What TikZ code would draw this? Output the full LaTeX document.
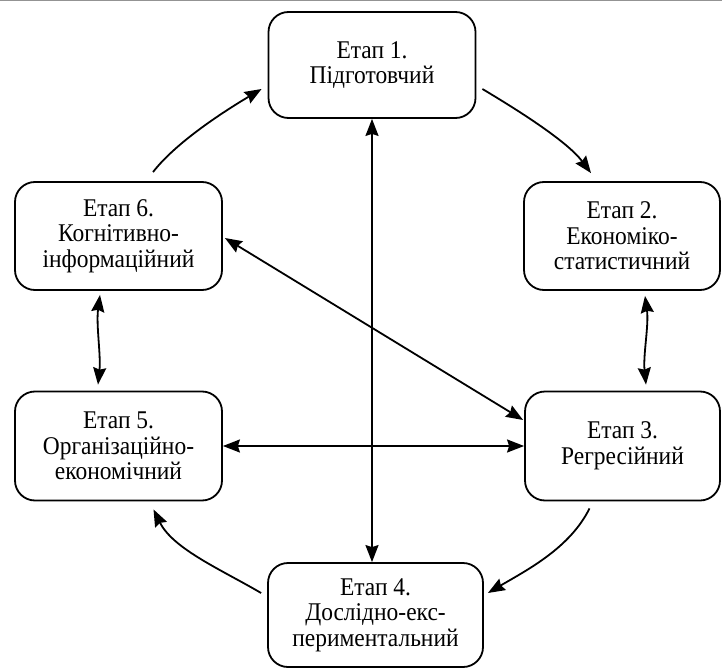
\documentclass[tikz,border=0pt]{standalone}
\usepackage{fontspec}
\setmainfont{Liberation Serif}[FakeStretch=0.92]
\usetikzlibrary{arrows.meta,calc}
\begin{document}
\begin{tikzpicture}[x=1pt,y=-1pt,
  stagebox/.style={draw, line width=1.8pt, rounded corners=20pt, align=center, inner sep=0pt,
    font=\fontsize{25.5}{25.5}\selectfont},
  link/.style={line width=1.8pt, -{Stealth[length=17pt,width=13pt,inset=2pt]}},
  twolink/.style={line width=1.8pt, {Stealth[length=17pt,width=13pt,inset=2pt]}-{Stealth[length=17pt,width=13pt,inset=2pt]}}]
\useasboundingbox (0,0) rectangle (722,668);
\draw[color=gray!85, line width=3pt] (0,0) -- (722,0);

\node[stagebox, minimum width=207pt, minimum height=106pt] (b1) at (372,65) {Етап 1.\\Підготовчий};
\node[stagebox, minimum width=196pt, minimum height=108pt] (b2) at (622,236) {Етап 2.\\Економіко-\\статистичний};
\node[stagebox, minimum width=195pt, minimum height=109pt] (b3) at (622.5,446) {Етап 3.\\Регресійний};
\node[stagebox, minimum width=215pt, minimum height=104pt] (b4) at (375.5,615) {Етап 4.\\Дослідно-екс-\\периментальний};
\node[stagebox, minimum width=207pt, minimum height=109pt] (b5) at (118.5,446) {Етап 5.\\Організаційно-\\економічний};
\node[stagebox, minimum width=207pt, minimum height=108pt] (b6) at (118.5,236) {Етап 6.\\Когнітивно-\\інформаційний};

% cycle arrows
\draw[link] ($(b6.north)+(34.5,-9)$) .. controls (177,141) and (228,109) .. ($(b1.west)+(-6,24)$);
\draw[link] ($(b1.east)+(6,24)$) .. controls (516,109) and (567,141) .. ($(b2.north)+(-31,-8)$);
\draw[link] ($(b3.south)+(-33,7)$) .. controls (570,548) and (527,570) .. ($(b4.east)+(4,-22)$);
\draw[link] ($(b4.west)+(-6,-22)$) .. controls (222,570) and (173,549) .. ($(b5.south)+(35,8)$);

% double arrows
\draw[twolink] (b1.south) -- (b1.south |- b4.north);
\draw[twolink] ($(b6.south)+(-18.5,4)$) .. controls (96,325) and (101,355) .. ($(b5.north)+(-20.5,-6)$);
\draw[twolink] ($(b2.south)+(23,5)$) .. controls (649,325) and (643,355) .. ($(b3.north)+(23.5,-6)$);
\draw[twolink] ($(b6.east)+(2,2)$) -- ($(b3.west)+(-1,-26)$);
\draw[twolink] (b5.east) -- (b3.west);
\end{tikzpicture}
\end{document}
